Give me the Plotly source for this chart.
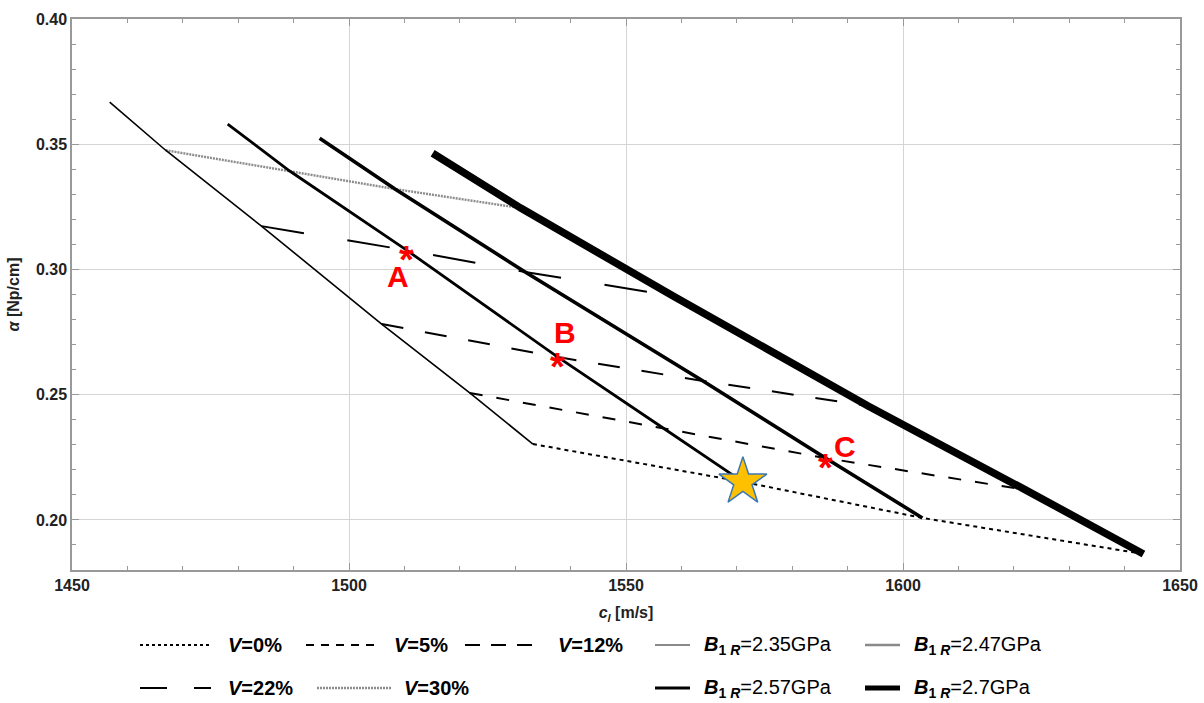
import plotly.graph_objects as go

# ---------------- data ----------------
# Each B1R curve: start point, then crossings with V = 30%, 22%, 12%, 5%, 0%
B1R_VALUES = ["2.35", "2.47", "2.57", "2.7"]
V_VALUES = ["30%", "22%", "12%", "5%", "0%"]

CL_235 = [1456.8, 1466.9, 1484.2, 1505.9, 1521.8, 1533.2]
AL_235 = [0.3668, 0.3476, 0.3173, 0.2782, 0.2507, 0.2303]
CL_247 = [1478.1, 1489.3, 1510.4, 1537.7, 1556.7, 1571.1]
AL_247 = [0.3580, 0.3393, 0.3077, 0.2650, 0.2367, 0.2152]
CL_257 = [1494.7, 1508.3, 1531.8, 1563.9, 1586.0, 1603.5]
AL_257 = [0.3524, 0.3321, 0.2990, 0.2555, 0.2247, 0.2008]
CL_270 = [1515.1, 1531.0, 1558.5, 1593.7, 1622.1, 1643.4]
AL_270 = [0.3464, 0.3245, 0.2894, 0.2455, 0.2120, 0.1864]

X_TICKS = [1450, 1500, 1550, 1600, 1650]
Y_TICKS = [0.20, 0.25, 0.30, 0.35, 0.40]

CL_ALL = [CL_235, CL_247, CL_257, CL_270]
AL_ALL = [AL_235, AL_247, AL_257, AL_270]

# ---------------- styles ----------------
B_WIDTH = [1.6, 2.8, 3.6, 7.5]
V_STYLE = {
    "30%": dict(color="#8c8c8c", width=2.4, dash="2px,1px"),
    "22%": dict(color="black", width=2, dash="43px,44px"),
    "12%": dict(color="black", width=2, dash="22px,22px"),
    "5%": dict(color="black", width=2, dash="13px,14px"),
    "0%": dict(color="black", width=2, dash="4px,4px"),
}
FONT = "Liberation Sans, Arial, sans-serif"

fig = go.Figure()

# iso-V curves (columns of the grid)
for j, v in enumerate(V_VALUES, start=1):
    fig.add_trace(go.Scatter(
        x=[c[j] for c in CL_ALL], y=[a[j] for a in AL_ALL],
        mode="lines", line=V_STYLE[v], name="V=" + v,
        showlegend=False, hoverinfo="skip"))

# iso-B1R curves
for k, b in enumerate(B1R_VALUES):
    fig.add_trace(go.Scatter(
        x=CL_ALL[k], y=AL_ALL[k], mode="lines",
        line=dict(color="black", width=B_WIDTH[k]),
        name="B1R=" + b + "GPa", showlegend=False, hoverinfo="skip"))

# star (2.47 GPa, V=0%)
fig.add_trace(go.Scatter(
    x=[CL_247[5]], y=[AL_247[5]], mode="markers",
    marker=dict(symbol="star", size=36, color="#FFC000",
                line=dict(color="#3A78B5", width=1.5)),
    showlegend=False, hoverinfo="skip"))

# points A, B, C
POINTS = [("A", CL_247[2], AL_247[2], -9, -26),
          ("B", CL_247[3], AL_247[3], 7, 25),
          ("C", CL_257[4], AL_257[4], 20, 12)]
annotations = []
for lab, xx, yy, dx, dy in POINTS:
    annotations.append(dict(x=xx, y=yy, xref="x", yref="y", text="<b>*</b>",
                            showarrow=False, yshift=-10,
                            font=dict(family=FONT, size=38, color="#FF0000")))
    annotations.append(dict(x=xx, y=yy, xref="x", yref="y", text="<b>" + lab + "</b>",
                            showarrow=False, xshift=dx, yshift=dy,
                            font=dict(family=FONT, size=30, color="#FF0000")))

# ---------------- manual legend ----------------
L, T, W, H = 72, 19, 1108, 551


def pxx(p):
    return (p - L) / W


def pyy(p):
    return (T + H - p) / H


LEG_ROW = [645, 688]
legend_items = [
    (140, 211, 0, dict(color="black", width=2, dash="3px,3px"), "<b><i>V</i>=0%</b>", 226),
    (306, 377, 0, dict(color="black", width=2, dash="8px,7px"), "<b><i>V</i>=5%</b>", 392),
    (465, 533, 0, dict(color="black", width=2, dash="15px,11px"), "<b><i>V</i>=12%</b>", 556),
    (140, 211, 1, dict(color="black", width=2, dash="27px,27px"), "<b><i>V</i>=22%</b>", 226),
    (317, 392, 1, dict(color="#8c8c8c", width=2.4, dash="2px,1px"), "<b><i>V</i>=30%</b>", 402),
    (655, 690, 0, dict(color="#8a8a8a", width=2), "<b><i>B</i><sub>1 <i>R</i></sub></b>=2.35GPa", 702),
    (865, 900, 0, dict(color="#8a8a8a", width=2.4), "<b><i>B</i><sub>1 <i>R</i></sub></b>=2.47GPa", 912),
    (655, 690, 1, dict(color="black", width=3), "<b><i>B</i><sub>1 <i>R</i></sub></b>=2.57GPa", 702),
    (865, 900, 1, dict(color="black", width=5), "<b><i>B</i><sub>1 <i>R</i></sub></b>=2.7GPa", 912),
]
shapes = []
for x0, x1, r, ls, txt, tx in legend_items:
    yy = pyy(LEG_ROW[r])
    shapes.append(dict(type="line", xref="paper", yref="paper",
                       x0=pxx(x0), x1=pxx(x1), y0=yy, y1=yy, line=ls))
    annotations.append(dict(x=pxx(tx), y=yy, xref="paper", yref="paper",
                            xanchor="left", yanchor="middle", text=txt,
                            showarrow=False,
                            font=dict(family=FONT, size=20, color="black")))

axis_common = dict(
    showline=True, linecolor="#999999", linewidth=1.5, mirror="ticks",
    ticks="inside", ticklen=7, tickcolor="#999999", tickwidth=1,
    showgrid=True, gridcolor="#d4d4d4", gridwidth=1,
    zeroline=False,
    tickfont=dict(family=FONT, size=16, color="#222222", weight="bold"),
)

fig.update_layout(
    width=1204, height=703,
    margin=dict(l=L, r=1204 - L - W, t=T, b=703 - T - H, autoexpand=False),
    paper_bgcolor="white", plot_bgcolor="white",
    showlegend=False,
    xaxis=dict(range=[1450, 1650], tickvals=X_TICKS,
               ticktext=[str(v) for v in X_TICKS],
               minor=dict(dtick=10, tick0=1450, ticks="inside", ticklen=4,
                          tickcolor="#999999", showgrid=False),
               title=dict(text="<b><i>c</i><sub><i>l</i></sub> [m/s]</b>",
                          font=dict(family=FONT, size=16, color="#222222"),
                          standoff=14),
               automargin=False,
               **axis_common),
    yaxis=dict(range=[0.18, 0.40], tickvals=Y_TICKS,
               ticktext=["%.2f" % v for v in Y_TICKS],
               minor=dict(dtick=0.01, tick0=0, ticks="inside", ticklen=4,
                          tickcolor="#999999", showgrid=False),
               title=dict(text="<b><i>α</i> [Np/cm]</b>",
                          font=dict(family=FONT, size=16, color="#222222"),
                          standoff=12),
               automargin=False,
               **axis_common),
    shapes=shapes,
    annotations=annotations,
)

fig.write_html("out.html",
               config={"displayModeBar": False},
               post_script="document.body.style.margin='0';"
                           "document.body.style.overflow='hidden';")
